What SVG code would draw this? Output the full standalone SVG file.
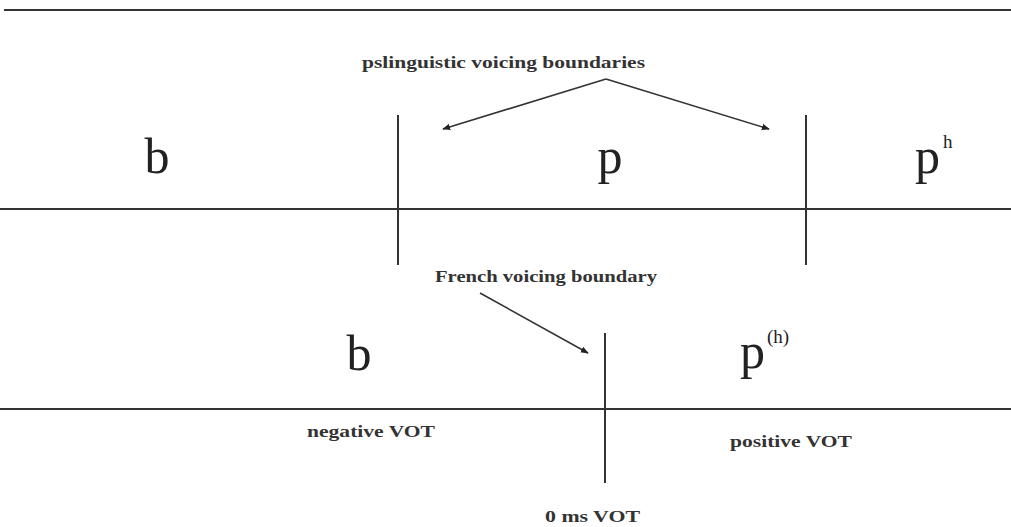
<svg xmlns="http://www.w3.org/2000/svg" width="1011" height="527" viewBox="0 0 1011 527">
<defs>
<marker id="ah" viewBox="0 0 10 10" refX="9" refY="5" markerWidth="8" markerHeight="8" orient="auto" markerUnits="userSpaceOnUse"><path d="M0,1 L10,5 L0,9 z" fill="#222"/></marker>
<style>
.ln{stroke:#333;stroke-width:2;fill:none}
.ar{stroke:#333;stroke-width:1.6;fill:none}
.big{font-family:"Liberation Serif",serif;font-size:50px;fill:#222}
.sup{font-family:"Liberation Serif",serif;font-size:19px;fill:#222}
.sm{font-family:"Liberation Serif",serif;font-size:17px;fill:#333;font-weight:bold}
</style>
</defs>
<rect width="1011" height="527" fill="#fff"/>
<g id="connectors">
<line class="ln" x1="4" y1="10" x2="1011" y2="10"/>
<line class="ln" x1="0" y1="209" x2="1011" y2="209"/>
<line class="ln" x1="0" y1="409" x2="1011" y2="409"/>
<line class="ln" x1="398" y1="115" x2="398" y2="265"/>
<line class="ln" x1="806" y1="115" x2="806" y2="265"/>
<line class="ln" x1="605" y1="333" x2="605" y2="483"/>
<polyline class="ar" points="606,79 443,129" marker-end="url(#ah)"/>
<polyline class="ar" points="606,79 769,129" marker-end="url(#ah)"/>
<line class="ar" x1="480" y1="293" x2="588" y2="353" marker-end="url(#ah)"/>
</g>
<g id="title"><text class="sm" x="362" y="68" textLength="283" lengthAdjust="spacingAndGlyphs">pslinguistic voicing boundaries</text></g>
<g id="b1"><text class="big" x="157" y="173" text-anchor="middle">b</text></g>
<g id="p1"><text class="big" x="610" y="173" text-anchor="middle">p</text></g>
<g id="ph"><text class="big" x="915" y="173">p</text><text class="sup" x="943" y="148">h</text></g>
<g id="french"><text class="sm" x="435" y="282" textLength="222" lengthAdjust="spacingAndGlyphs">French voicing boundary</text></g>
<g id="b2"><text class="big" x="359" y="370" text-anchor="middle">b</text></g>
<g id="ph2"><text class="big" x="740" y="368">p</text><text class="sup" x="767" y="343">(h)</text></g>
<g id="neg"><text class="sm" x="307" y="437" textLength="128" lengthAdjust="spacingAndGlyphs">negative VOT</text></g>
<g id="pos"><text class="sm" x="730" y="447" textLength="122" lengthAdjust="spacingAndGlyphs">positive VOT</text></g>
<g id="zero"><text class="sm" x="545" y="522" textLength="95" lengthAdjust="spacingAndGlyphs">0 ms VOT</text></g>
</svg>
